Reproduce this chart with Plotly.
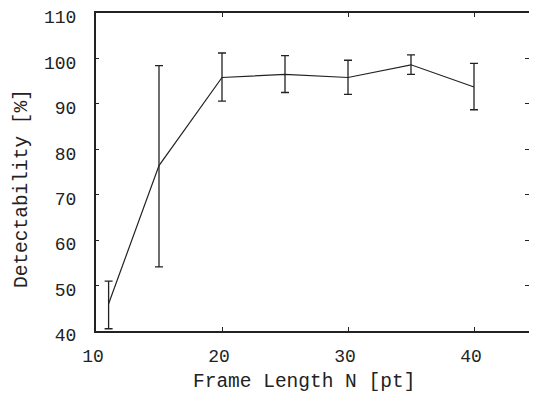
import plotly.graph_objects as go

frame_length = [11, 15, 20, 25, 30, 35, 40]
detectability = [46.0, 76.4, 95.8, 96.5, 95.8, 98.6, 93.7]
err_plus = [5.0, 22.0, 5.4, 4.1, 3.8, 2.2, 5.2]
err_minus = [5.5, 22.3, 5.2, 4.0, 3.7, 2.1, 5.0]

x_ticks = [10, 20, 30, 40]
y_ticks = [40, 50, 60, 70, 80, 90, 100, 110]

FONT = "Courier New, Liberation Mono, monospace"
INK = "#222222"
FS = 18
FT = 19.5

# The page body has an 8px margin on every side; size the figure so the page
# is exactly 537x401 and lay out in screenshot pixels.
OFF = 8
W, H = 537 - 2 * OFF, 401 - 2 * OFF
L, R, T, B = 96 - OFF, 0, 13 - OFF, (401 - OFF) - 331
pw, ph = W - L - R, H - T - B
PX_PER_UNIT = 12.6
x_max = 10 + pw / PX_PER_UNIT


def px_to_paper(x, y_from_top):
    return (x - OFF - L) / pw, (H - B - (y_from_top - OFF)) / ph


fig = go.Figure()
fig.add_trace(go.Scatter(
    x=frame_length, y=detectability, mode="lines",
    line=dict(color=INK, width=1.2),
    error_y=dict(type="data", symmetric=False, array=err_plus, arrayminus=err_minus,
                 color=INK, thickness=1.3, width=4),
    showlegend=False,
))
fig.add_trace(go.Scatter(x=[frame_length[0]], y=[detectability[0]], yaxis="y2",
                         mode="markers", marker=dict(opacity=0), showlegend=False,
                         hoverinfo="skip"))

xt_x, xt_y = px_to_paper(304, 382)
yt_x, yt_y = px_to_paper(22, 189)

fig.update_layout(
    width=W, height=H,
    margin=dict(l=L, r=R, t=T, b=B, autoexpand=False),
    paper_bgcolor="white", plot_bgcolor="white",
    font=dict(family=FONT, size=FS, color=INK),
    xaxis=dict(range=[10, x_max], tickvals=x_ticks, ticks="inside", ticklen=4,
               tickcolor=INK, showline=True, linecolor=INK, linewidth=1.5,
               mirror="ticks", showgrid=False, zeroline=False, automargin=False,
               ticklabelstandoff=8, ticklabelshift=-3, ticklabeloverflow="allow"),
    yaxis=dict(range=[40, 110], tickvals=y_ticks, ticks="inside", ticklen=3,
               tickcolor=INK, showline=True, linecolor=INK, linewidth=2,
               showgrid=False, zeroline=False, automargin=False,
               ticklabelstandoff=14, ticklabelshift=4, ticklabeloverflow="allow"),
    yaxis2=dict(range=[40, 110], tickvals=y_ticks, overlaying="y", side="right",
                ticks="inside", ticklen=4, tickcolor=INK, showticklabels=False,
                showline=False, showgrid=False, zeroline=False, automargin=False),
    annotations=[
        dict(text="Frame Length N [pt]", x=xt_x, y=xt_y, xref="paper", yref="paper",
             xanchor="center", yanchor="middle", showarrow=False,
             font=dict(family=FONT, size=FT, color=INK)),
        dict(text="Detectability [%]", x=yt_x, y=yt_y, xref="paper", yref="paper",
             xanchor="center", yanchor="middle", textangle=-90, showarrow=False,
             font=dict(family=FONT, size=FT, color=INK)),
    ],
)

fig.write_html("out.html")
